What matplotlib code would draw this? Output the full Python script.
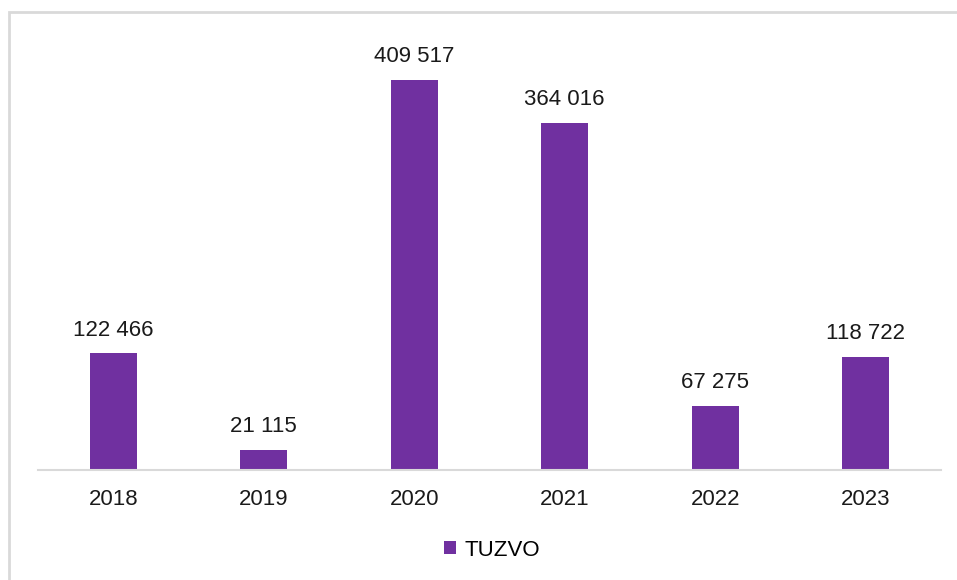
import matplotlib.pyplot as plt
from matplotlib.patches import Rectangle

years = ["2018", "2019", "2020", "2021", "2022", "2023"]
values = [122466, 21115, 409517, 364016, 67275, 118722]
series_name = "TUZVO"
bar_color = "#7030A0"

plt.rcParams['font.family'] = ['Liberation Sans', 'DejaVu Sans']

W, H = 957, 580
fig = plt.figure(figsize=(W / 100, H / 100), dpi=100)
ax = fig.add_axes([38 / W, 1 - 470 / H, (941 - 38) / W, (470 - 41) / H])

x = range(len(years))
bars = ax.bar(x, values, width=0.31, color=bar_color, label=series_name)
for xi, v in zip(x, values):
    ax.annotate(f"{v:,}".replace(",", " "), (xi, v), xytext=(0, 9),
                textcoords="offset points", ha="center", va="bottom",
                fontsize=16, color="#1a1a1a")

ax.set_xlim(-0.5, len(years) - 0.5)
ax.set_ylim(0, 450000)
ax.set_xticks(list(x))
ax.set_xticklabels(years, fontsize=16, color="#1a1a1a")
ax.tick_params(axis="x", length=0, pad=14)
ax.set_yticks([])
for s in ["top", "right", "left"]:
    ax.spines[s].set_visible(False)
ax.spines["bottom"].set_color("#d9d9d9")
ax.spines["bottom"].set_linewidth(1.5)

fig.legend(handles=[bars], labels=[series_name], loc="center",
           bbox_to_anchor=(492 / W, 1 - 550 / H), frameon=False,
           fontsize=16, handlelength=0.55, handleheight=0.55, handletextpad=0.4)

# outer frame (right and bottom edges fall outside the image)
fig.patches.append(Rectangle((9 / W, -0.1), 1.2, 1 - 12 / H + 0.1,
                             transform=fig.transFigure, fill=False,
                             edgecolor="#d9d9d9", linewidth=2))

fig.savefig("out.png", dpi=100)
